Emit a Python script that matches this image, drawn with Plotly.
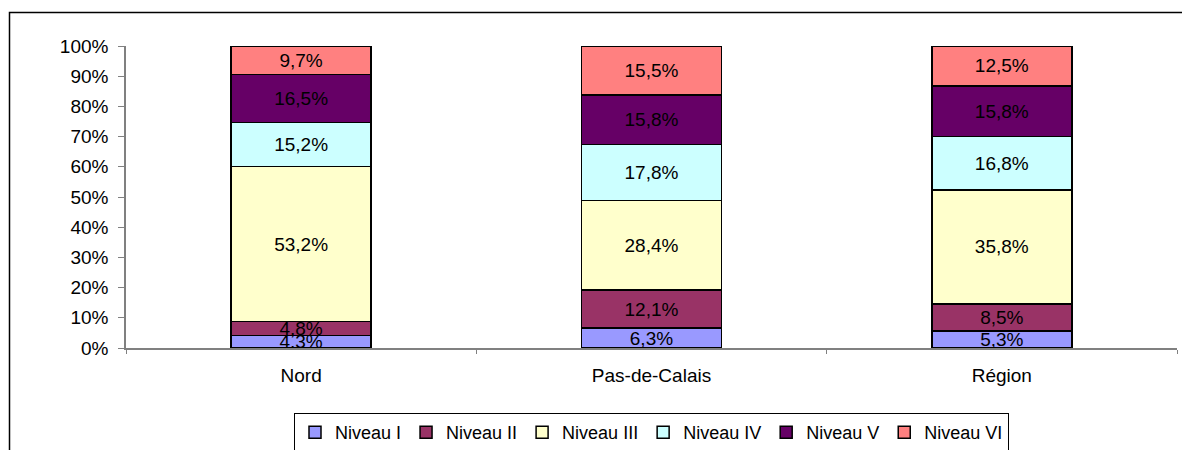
import plotly.graph_objects as go

categories = ["Nord", "Pas-de-Calais", "Région"]
series_names = ["Niveau I", "Niveau II", "Niveau III", "Niveau IV", "Niveau V", "Niveau VI"]
niveau_1 = [4.3, 6.3, 5.3]
niveau_2 = [4.8, 12.1, 8.5]
niveau_3 = [53.2, 28.4, 35.8]
niveau_4 = [15.2, 17.8, 16.8]
niveau_5 = [16.5, 15.8, 15.8]
niveau_6 = [9.7, 15.5, 12.5]
y_tick_values = [0, 10, 20, 30, 40, 50, 60, 70, 80, 90, 100]
y_tick_labels = ["0%", "10%", "20%", "30%", "40%", "50%", "60%", "70%", "80%", "90%", "100%"]

series_values = [niveau_1, niveau_2, niveau_3, niveau_4, niveau_5, niveau_6]
colors = ["#9999FF", "#993366", "#FFFFCC", "#CCFFFF", "#660066", "#FF8080"]

FONT = "Arial, Liberation Sans, sans-serif"
FS = 19

W, H = 1182, 450
L, R, T, B = 126, 5, 46, 102
pw, ph = W - L - R, H - T - B

def fmt(v):
    return f"{v:.1f}".replace(".", ",") + "%"

fig = go.Figure()
for name, vals, col in zip(series_names, series_values, colors):
    fig.add_trace(go.Bar(
        name=name, x=categories, y=vals,
        marker=dict(color=col, line=dict(color="black", width=1.5)),
        text=[fmt(v) for v in vals],
        textposition="inside", insidetextanchor="middle",
        textfont=dict(family=FONT, size=FS, color="black"),
        constraintext="none",
    ))

def px_to_paper_x(px):
    return (px - L) / pw

def px_to_paper_y(py):
    return (H - B - py) / ph

fig.add_shape(type="rect", xref="paper", yref="paper",
              x0=px_to_paper_x(9.5), x1=px_to_paper_x(1200),
              y0=px_to_paper_y(470), y1=px_to_paper_y(12.5),
              line=dict(color="black", width=1.5), fillcolor="rgba(0,0,0,0)",
              layer="below")

fig.update_layout(
    width=W, height=H,
    margin=dict(l=L, r=R, t=T, b=B, pad=0, autoexpand=False),
    paper_bgcolor="white", plot_bgcolor="white",
    barmode="stack", barnorm="percent", bargap=0.6,
    font=dict(family=FONT, size=FS, color="black"),
    uniformtext=dict(minsize=FS, mode="show"),
    showlegend=True,
    legend=dict(orientation="h", x=0.5, xanchor="center",
                y=px_to_paper_y(413), yanchor="top",
                bordercolor="black", borderwidth=1,
                font=dict(family=FONT, size=18, color="black"),
                traceorder="normal", itemwidth=30, tracegroupgap=0),
    xaxis=dict(showline=True, linecolor="#808080", linewidth=1.5,
               ticks="outside", tickson="boundaries", ticklen=4,
               tickcolor="#808080", tickwidth=1, showgrid=False,
               ticklabelstandoff=9),
    yaxis=dict(range=[0, 100], tickvals=y_tick_values, ticktext=y_tick_labels,
               showline=True, linecolor="#808080", linewidth=1.5,
               ticks="outside", ticklen=6, tickcolor="#808080", tickwidth=1,
               showgrid=False, zeroline=False, ticklabelstandoff=6),
)

fig.write_html("out.html",
               config={"displayModeBar": False},
               post_script="document.body.style.margin='0';document.body.style.overflow='hidden';")
